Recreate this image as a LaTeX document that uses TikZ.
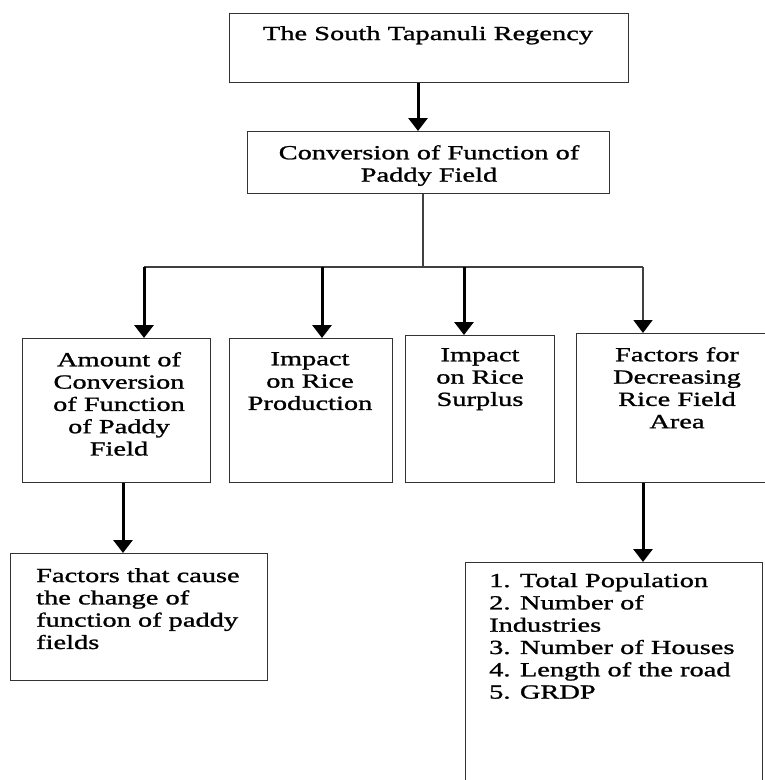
\documentclass[tikz,border=0pt]{standalone}
\usepackage{fontspec}
\setmainfont{Liberation Serif}[FakeStretch=1.42,FakeBold=1.2]
\usetikzlibrary{arrows.meta}
\begin{document}
\begin{tikzpicture}[x=1pt,y=-1pt,
  box/.style={draw=black!80, line width=1.3pt, rectangle, inner sep=0pt, anchor=north west},
  txt/.style={inner sep=0pt, anchor=north, align=center, font=\fontsize{20}{22.3}\selectfont},
  ltxt/.style={inner sep=0pt, anchor=north west, align=left, font=\fontsize{20}{22.3}\selectfont},
  tip/.style={-{Triangle[width=19pt,length=13pt,color=black]}},
  thickarr/.style={tip, line width=3pt, draw=black},
  thinarr/.style={tip, line width=1.5pt, draw=black!75},
  thinline/.style={line width=1.5pt, draw=black!75}]
\clip (0,0) rectangle (765,780);
\fill[white] (0,0) rectangle (765,780);
% boxes
\node[box, minimum width=399pt, minimum height=69pt] (top) at (229,13) {};
\node[box, minimum width=362pt, minimum height=62pt] (conv) at (247,131) {};
\node[box, minimum width=188pt, minimum height=144pt] (am) at (22,338) {};
\node[box, minimum width=163pt, minimum height=144pt] (rp) at (229,338) {};
\node[box, minimum width=149pt, minimum height=147pt] (rs) at (405,335) {};
\node[box, minimum width=215pt, minimum height=149pt] (fa) at (576,333) {};
\node[box, minimum width=257pt, minimum height=127pt] (fc) at (10,553) {};
\node[box, minimum width=297pt, minimum height=240pt] (lst) at (465,562) {};
% texts
\node[txt] (ttop) at (428,26) {The South Tapanuli Regency};
\node[txt] (tconv) at (429,145) {Conversion of Function of\\Paddy Field};
\node[txt] (tam) at (119,352) {Amount of\\Conversion\\of Function\\of Paddy\\Field};
\node[txt] (trp) at (310,352) {Impact\\on Rice\\Production};
\node[txt] (trs) at (480,348) {Impact\\on Rice\\Surplus};
\node[txt] (tfa) at (677,347) {Factors for\\Decreasing\\Rice Field\\Area};
\node[ltxt] (tfc) at (36,568) {Factors that cause\\the change of\\function of paddy\\fields};
\node[ltxt] (tlst) at (489,573) {1. Total Population\\2. Number of\\Industries\\3. Number of Houses\\4. Length of the road\\5. GRDP};
% connector points
\coordinate (c0) at (418,100);
\coordinate (bus) at (423,267);
\coordinate (b1) at (144,267);
\coordinate (b2) at (322,267);
\coordinate (b3) at (464,267);
\coordinate (b4) at (643,267);
\coordinate (c5) at (123,500);
% connectors
\draw[thickarr] (c0 |- top.south) -- (c0 |- conv.north);
\draw[thinline] (bus |- conv.south) -- (bus);
\draw[thinline] (b1) -- (b4);
\draw[thickarr] (b1) -- (b1 |- am.north);
\draw[thickarr] (b2) -- (b2 |- rp.north);
\draw[thickarr] (b3) -- (b3 |- rs.north);
\draw[thinarr] (b4) -- (b4 |- fa.north);
\draw[thickarr] (c5 |- am.south) -- (c5 |- fc.north);
\draw[thickarr] (b4 |- fa.south) -- (b4 |- lst.north);
\end{tikzpicture}
\end{document}
